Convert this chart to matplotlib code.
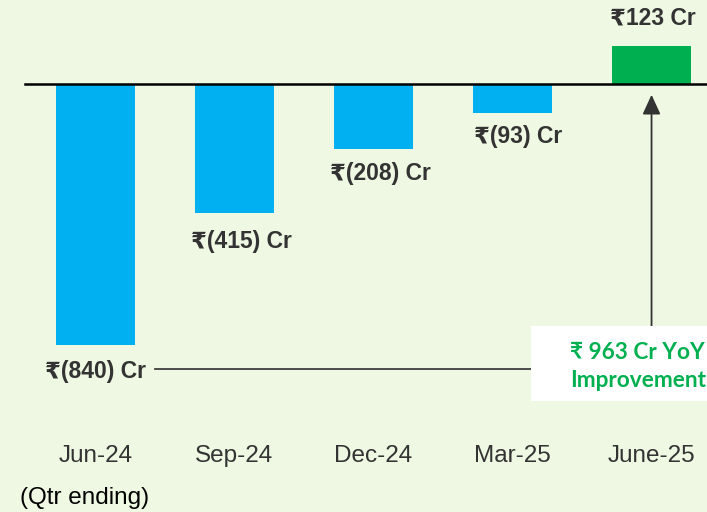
import matplotlib.pyplot as plt
from matplotlib.patches import Rectangle

# Quarterly values (Rs Cr)
quarters = ["Jun-24", "Sep-24", "Dec-24", "Mar-25", "June-25"]
values = [-840, -415, -208, -93, 123]
labels = ["₹(840) Cr", "₹(415) Cr", "₹(208) Cr", "₹(93) Cr", "₹123 Cr"]
improvement_text = "₹ 963 Cr YoY\nImprovement"

bg = "#EEF8E2"
blue = "#00B0F0"
green = "#00B050"
txt = "#333333"
main_font = ["Liberation Sans", "DejaVu Sans"]

fig = plt.figure(figsize=(7.07, 5.12), dpi=100, facecolor=bg)
ax = fig.add_axes([0, 0, 1, 1])
ax.set_facecolor(bg)
ax.set_xlim(-0.687, 4.399)
ax.set_ylim(-1378, 270)
ax.axis("off")

x = list(range(len(quarters)))
colors = [blue if v < 0 else green for v in values]
ax.bar(x, values, width=0.568, color=colors, zorder=2)

# zero line
ax.plot([-0.507, 4.399], [0, 0], color="black", lw=1.8, zorder=3)

# value labels
label_y = [-925, -506, -287, -168, 212]
label_dx = [0.0, 0.05, 0.05, 0.04, 0.01]
for xi, ly, dx, lab in zip(x, label_y, label_dx, labels):
    ax.text(xi + dx, ly, lab, ha="center", va="center", fontsize=16.5,
            fontweight="bold", color=txt, family=main_font)

# category labels
for xi, q in zip(x, quarters):
    ax.text(xi, -1197, q, ha="center", va="center", fontsize=17.5,
            color=txt, family=main_font)
ax.text(-0.545, -1333, "(Qtr ending)", ha="left", va="center", fontsize=17.5,
        color="black", family=main_font)

# connector from Jun-24 to the improvement box
ax.plot([0.428, 3.14], [-917, -917], color="#404040", lw=1.3, zorder=1)
ax.annotate("", xy=(4.0, -35), xytext=(4.0, -779),
            arrowprops=dict(arrowstyle="-|>,head_length=1.2,head_width=0.55",
                            color="#333333", lw=1.3, shrinkA=0, shrinkB=0))

# improvement box
ax.add_patch(Rectangle((3.133, -1020), 1.3, 241, facecolor="white",
                       edgecolor="none", zorder=4))
ax.text(3.9, -910, improvement_text, ha="center", va="center", fontsize=16.3,
        fontweight="bold", color=green, family=["Lato", "DejaVu Sans"],
        linespacing=1.42, zorder=5)

fig.savefig("out.png", dpi=100, facecolor=bg)
